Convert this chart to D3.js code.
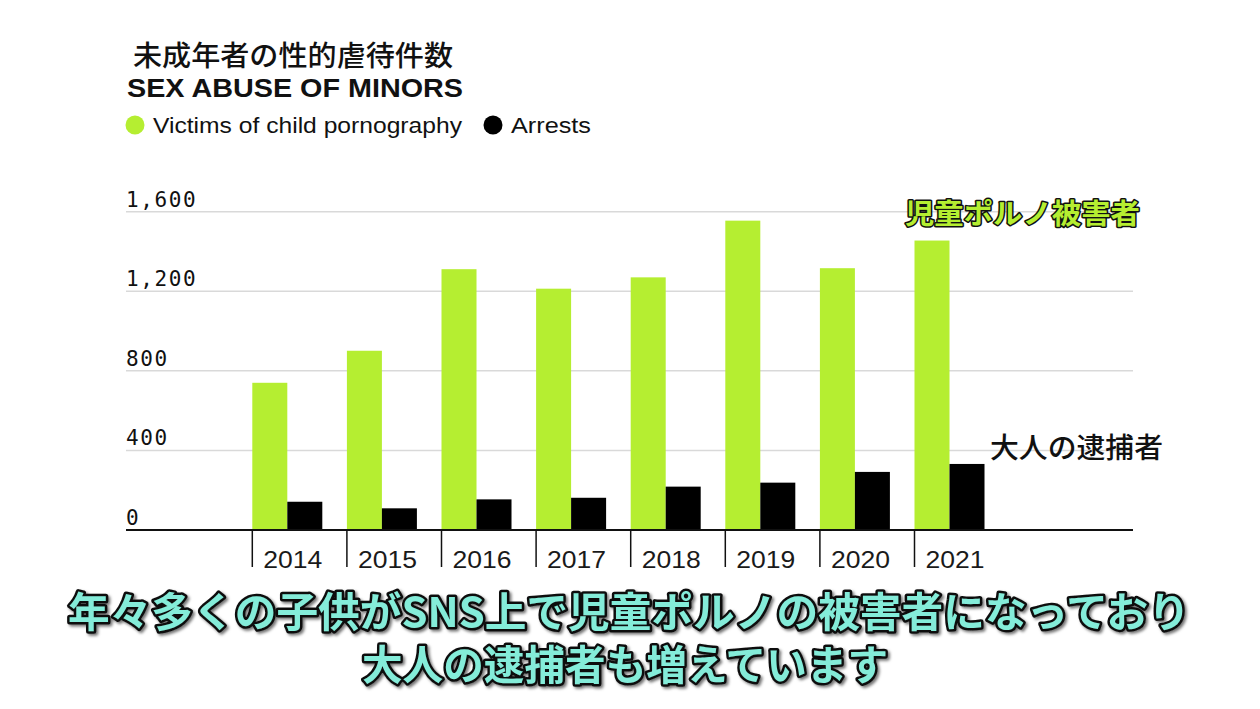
<!DOCTYPE html>
<html>
<head>
<meta charset="utf-8">
<script src="https://cdn.jsdelivr.net/npm/d3@7"></script>
<style>
  html, body { margin: 0; padding: 0; background: #fff; }
  svg { display: block; }
</style>
</head>
<body>
<div id="chart"></div>
<script>
// data
const years = ["2014", "2015", "2016", "2017", "2018", "2019", "2020", "2021"];
const victims = [740, 901, 1311, 1213, 1270, 1555, 1316, 1455];
const arrests = [142, 109, 154, 162, 218, 238, 292, 332];
const yTicks = [0, 400, 800, 1200, 1600];
const seriesNames = ["Victims of child pornography", "Arrests"];

const W = 1260, H = 709;
const green = "#b5ee31", black = "#000";
const jp = '"Noto Sans CJK JP", sans-serif';
const sans = '"Liberation Sans", Arial, sans-serif';
const mono = '"DejaVu Sans Mono", monospace';

const svg = d3.select('#chart').append('svg').attr('width', W).attr('height', H);
svg.append('rect').attr('width', W).attr('height', H).attr('fill', '#fff');

const defs = svg.append('defs');
defs.append('filter').attr('id', 'shadow').attr('x', '-5%').attr('y', '-20%')
    .attr('width', '110%').attr('height', '140%')
    .append('feDropShadow').attr('dx', 2).attr('dy', 2).attr('stdDeviation', 1.5)
    .attr('flood-color', '#000').attr('flood-opacity', 0.55);

const plot = { left: 126, right: 1133, top: 211.7, bottom: 530 };

const y = d3.scaleLinear().domain([0, 1600]).range([plot.bottom, plot.top]);
const x = d3.scaleBand().domain(years).range([252.3, 252.3 + 8 * 94.6])
    .paddingInner(0.26).paddingOuter(0.13).align(0);
const sub = d3.scaleBand().domain([0, 1]).range([0, x.bandwidth()]);

// grid + y labels
svg.append('g').selectAll('line').data(yTicks.filter(d => d > 0)).enter().append('line')
    .attr('x1', plot.left).attr('x2', plot.right)
    .attr('y1', d => y(d)).attr('y2', d => y(d))
    .attr('stroke', '#d9d9d9').attr('stroke-width', 1.5);

svg.append('g').selectAll('text').data(yTicks).enter().append('text')
    .attr('x', plot.left).attr('y', d => y(d) - 5)
    .attr('font-family', mono).attr('font-size', 21).attr('letter-spacing', 1.6)
    .attr('fill', '#111').text(d => d3.format(',')(d));

// bars
const groups = svg.append('g').selectAll('g').data(years).enter().append('g')
    .attr('transform', d => `translate(${x(d)},0)`);
groups.append('rect')
    .attr('x', sub(0)).attr('width', sub.bandwidth())
    .attr('y', (d, i) => y(victims[i])).attr('height', (d, i) => y(0) - y(victims[i]))
    .attr('fill', green);
groups.append('rect')
    .attr('x', sub(1)).attr('width', sub.bandwidth())
    .attr('y', (d, i) => y(arrests[i])).attr('height', (d, i) => y(0) - y(arrests[i]))
    .attr('fill', black);

// x axis
svg.append('line').attr('x1', plot.left).attr('x2', plot.right)
    .attr('y1', y(0)).attr('y2', y(0)).attr('stroke', '#111').attr('stroke-width', 1.8);
groups.append('line').attr('x1', 0).attr('x2', 0).attr('y1', y(0)).attr('y2', 567)
    .attr('stroke', '#111').attr('stroke-width', 1.5);
groups.append('text').attr('x', 11).attr('y', 568)
    .attr('font-family', sans).attr('font-size', 23)
    .attr('textLength', 59).attr('lengthAdjust', 'spacingAndGlyphs')
    .attr('fill', '#1a1a1a').text(d => d);

// titles
svg.append('text').attr('x', 133).attr('y', 66)
    .attr('font-family', jp).attr('font-size', 28).attr('font-weight', 500)
    .attr('textLength', 320).attr('lengthAdjust', 'spacingAndGlyphs')
    .attr('fill', '#111').text('未成年者の性的虐待件数');
svg.append('text').attr('x', 127).attr('y', 97)
    .attr('font-family', sans).attr('font-size', 25).attr('font-weight', 'bold')
    .attr('textLength', 336).attr('lengthAdjust', 'spacingAndGlyphs')
    .attr('fill', '#111').text('SEX ABUSE OF MINORS');

// legend
const legendX = [135, 493];
const legendW = [309, 80];
const legend = svg.append('g').selectAll('g').data(seriesNames).enter().append('g')
    .attr('transform', (d, i) => `translate(${legendX[i]},125)`);
legend.append('circle').attr('r', 9.5).attr('fill', (d, i) => i ? black : green);
legend.append('text').attr('x', 18).attr('y', 8)
    .attr('font-family', sans).attr('font-size', 22.5)
    .attr('textLength', (d, i) => legendW[i]).attr('lengthAdjust', 'spacingAndGlyphs')
    .attr('fill', '#111').text(d => d);

// annotations
svg.append('text').attr('x', 905).attr('y', 224)
    .attr('font-family', jp).attr('font-size', 28).attr('font-weight', 'bold')
    .attr('fill', green).attr('stroke', '#111').attr('stroke-width', 3)
    .attr('paint-order', 'stroke').attr('stroke-linejoin', 'round')
    .attr('textLength', 235).attr('lengthAdjust', 'spacingAndGlyphs')
    .text('児童ポルノ被害者');
svg.append('text').attr('x', 990).attr('y', 458)
    .attr('font-family', jp).attr('font-size', 28).attr('font-weight', 500)
    .attr('fill', '#111').attr('textLength', 173).attr('lengthAdjust', 'spacingAndGlyphs')
    .text('大人の逮捕者');

// caption
const caption = [
    { t: '年々多くの子供がSNS上で児童ポルノの被害者になっており', x: 68, y: 627, w: 1122 },
    { t: '大人の逮捕者も増えています', x: 362, y: 680, w: 526 }
];
svg.append('g').attr('filter', 'url(#shadow)')
    .selectAll('text').data(caption).enter().append('text')
    .attr('x', d => d.x).attr('y', d => d.y)
    .attr('textLength', d => d.w).attr('lengthAdjust', 'spacingAndGlyphs')
    .attr('font-family', jp).attr('font-size', 41).attr('font-weight', 'bold')
    .attr('fill', '#84ecd9').attr('stroke', '#111').attr('stroke-width', 5)
    .attr('stroke-linejoin', 'round').attr('paint-order', 'stroke')
    .text(d => d.t);
</script>
</body>
</html>
